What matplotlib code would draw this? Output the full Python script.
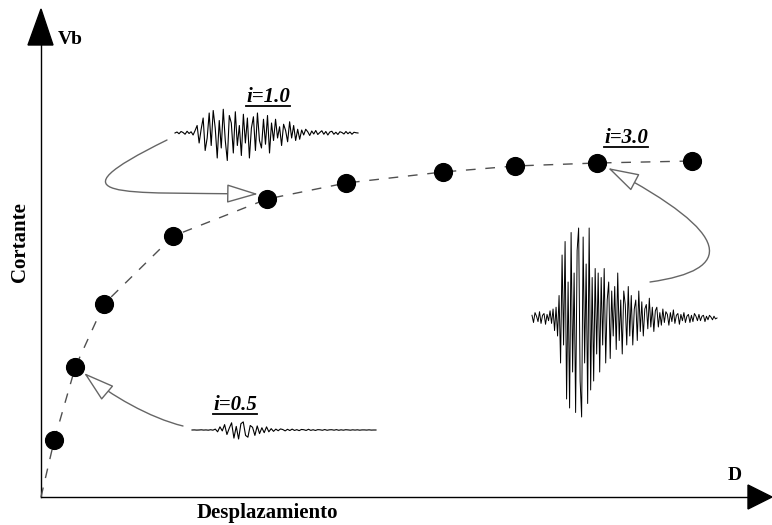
import numpy as np
import matplotlib
matplotlib.use('Agg')
import matplotlib.pyplot as plt
from matplotlib.patches import FancyArrowPatch, Polygon
from matplotlib.path import Path

# IDA points: displacement D vs base shear Vb (arbitrary units)
disp = [0.19, 0.49, 0.90, 1.89, 3.23, 4.36, 5.74, 6.77, 7.94, 9.30]
shear = [1.14, 2.60, 3.86, 5.22, 5.96, 6.28, 6.50, 6.62, 6.68, 6.72]

# record amplitudes for the three scaled records (unitless)
wave_05 = [0, .01, -.01, 0, .02, -.01, .01, -.02, .03, -.02,
           .1, -.2, .35, -.1, .6, -.5, .2, .8, -.9, .4, -1.0, .7, .9, -.6, -.8, .5,
           .3, -.6, .45, -.4, .25, -.3, .35, -.2, .15,
           -.15, .1, -.08, .12, .05, -.1, .08, -.06, .1, -.05, .04, -.07, .06, .03,
           -.05, .08, -.04, .03, -.05, .04, .02, -.03, .05, -.03, .02, .03, -.02, .04,
           -.03, .02, -.02, .03, .01, -.02, .02, -.01, .02, -.02, .01, .01, -.01, .02,
           -.01, 0, 0]
wave_10 = [0, .04, -.03, .06, .02, -.05, .07, -.02, .05, -.08, .1,
           .3, -.4, .15, .6, -.7, -.2, .8, -.5, .9, .2, -1.0, .5, -.6, .95, -.3, -1.1,
           .7, .4, -.8, .85, -.5, .3, -.9, .75, -.4, .6, -1.0, .2, .65, -.7, .8, -.3,
           -.6, .55, -.45, .7, -.8,
           .4, -.3, .55, -.2, .25, -.5, .35, .1, -.35, .45, -.2, .3, -.3, .15, -.25,
           .12, -.08, .15, .05, -.1, .08, -.04, .1, -.06, .02, .09, -.05, .06, -.08,
           .04, .07, -.05, .03, -.06, .05, .02, -.04, .06, -.03, .04, -.05, .03, .01, 0]
wave_30 = [.03, -.05, .06, .02, -.04, .07, -.06, .03, .05, -.07, .04, -.03, .08,
           -.06, .1, -.14, .12, -.2, .25,
           -.5, .7, -.3, .85, -.9, .4, -1.0, .95, -.6, .5, -1.05, .75, 1.0, -.7, -1.1,
           .9, -.5, .6, -.95, 1.0, -.8, .45, -.7, .55, -.4, .5, -.6,
           .45, -.3, .55, -.5, .2, .4, -.45, .3, -.2, .35, -.35, .5, -.25, .2, -.4, .3,
           .15, -.3, .35, -.2, .25, -.3, .1, .2, -.25, .3, -.15, .18, -.2, .1, .15,
           -.12, .22, -.1, .12, -.15, .08, .12, -.1, .06,
           -.08, .1, -.05, .07, .04, -.08, .06, -.04, .09, -.06, .03, .05, -.07, .04,
           -.03, .06, -.05, .02, .04, -.05, .03, -.04, .05, .02, -.03, .04, -.03, .02,
           .03, -.04, .02, -.02, .03, .01, -.02, .02, -.01, 0]
labels = ['i=0.5', 'i=1.0', 'i=3.0']

W, H = 772, 525
fig = plt.figure(figsize=(W / 100, H / 100), dpi=100)

# main axes: data units, origin at pixel (41, 497)
ax = fig.add_axes([0, 0, 1, 1])
ax.set_xlim(-41 / 70, (W - 41) / 70)
ax.set_ylim(-(H - 497) / 50, 497 / 50)
ax.axis('off')

# overlay in pixel units for the sketch decorations
deco = fig.add_axes([0, 0, 1, 1], zorder=0)
deco.set_xlim(0, W)
deco.set_ylim(H, 0)
deco.axis('off')
deco.patch.set_alpha(0)
ax.set_zorder(1)
ax.patch.set_alpha(0)

# dashed curve and points
ax.plot([0] + disp, [0] + shear, color='#505050', lw=1.0, dashes=(7, 7))
ax.plot(disp, shear, 'o', color='black', ms=12.8)

# axes with arrow heads
deco.plot([41, 41], [497, 40], color='black', lw=1.0)
deco.plot([41, 750], [497, 497], color='black', lw=1.0)
deco.add_patch(Polygon([[28, 45], [53, 45], [41, 9]], closed=True, color='black'))
deco.add_patch(Polygon([[748, 485], [748, 509], [772, 497]], closed=True, color='black'))

serif = 'Liberation Serif'
deco.text(58, 39, 'Vb', fontsize=14, fontweight='bold', family=serif, ha='left', va='center')
deco.text(735, 476, 'D', fontsize=14, fontweight='bold', family=serif, ha='center', va='center')
deco.text(20, 242, 'Cortante', fontsize=15, fontweight='bold', family=serif,
          rotation=90, ha='center', va='center')
deco.text(267, 513, 'Desplazamiento', fontsize=15, fontweight='bold', family=serif,
          ha='center', va='center')


def draw_wave(vals, x0, x1, base, scale, lw):
    xs = np.linspace(x0, x1, len(vals))
    deco.plot(xs, base - np.array(vals) * scale, color='black', lw=lw)


draw_wave(wave_05, 192, 376, 430, 9, 0.8)
draw_wave(wave_10, 175, 358, 133, 25, 0.8)
draw_wave(wave_30, 532, 717, 318, 90, 0.7)

# underlined intensity labels
label_pos = [(235, 405), (268, 97), (626, 138)]
txts = []
for lab, (lx, ly) in zip(labels, label_pos):
    txts.append(deco.text(lx, ly, lab, fontsize=15, fontweight='bold', style='italic',
                          family=serif, ha='center', va='center'))
fig.canvas.draw()
inv = deco.transData.inverted()
for t in txts:
    bb = t.get_window_extent()
    (xa, ya), (xb, _) = inv.transform([(bb.x0, bb.y0 + 1), (bb.x1, bb.y0 + 1)])
    deco.plot([xa, xb], [ya, ya], color='black', lw=1.3)

# curved hollow arrows
arrow_paths = [
    [(167, 140), (45, 200), (120, 192), (258, 194)],
    [(183, 426), (150, 418), (110, 395), (84, 373)],
    [(650, 282), (735, 270), (735, 235), (608, 168)],
]
for verts in arrow_paths:
    p = Path(verts, [Path.MOVETO, Path.CURVE4, Path.CURVE4, Path.CURVE4])
    arr = FancyArrowPatch(path=p, arrowstyle='-|>,head_length=1.0,head_width=0.3',
                          mutation_scale=20, fc='white', ec='#666666', lw=1.0,
                          transform=deco.transData)
    deco.add_patch(arr)

fig.savefig('out.png', dpi=100)
